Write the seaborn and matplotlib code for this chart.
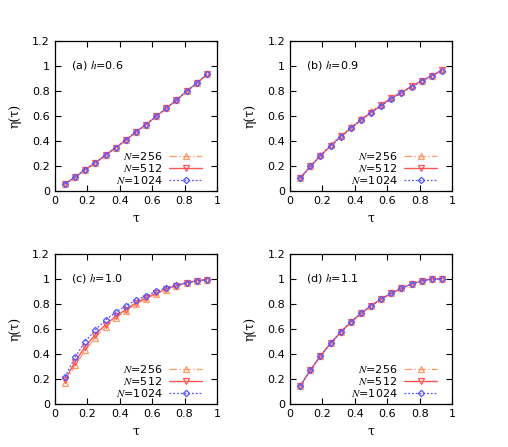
import numpy as np
import matplotlib
matplotlib.use("Agg")
import matplotlib.pyplot as plt
import seaborn as sns

sns.set_style("ticks", rc={"axes.edgecolor": "black", "text.color": "black",
                           "axes.labelcolor": "black", "xtick.color": "black",
                           "ytick.color": "black"})
plt.rcParams['font.family'] = ['DejaVu Sans']
plt.rcParams['mathtext.fontset'] = 'stix'

# data: tau = k/16
tau = [0.0625, 0.125, 0.1875, 0.25, 0.3125, 0.375, 0.4375, 0.5,
       0.5625, 0.625, 0.6875, 0.75, 0.8125, 0.875, 0.9375]

sizes = [256, 512, 1024]
panel_labels = ["(a)", "(b)", "(c)", "(d)"]
h_values = ["0.6", "0.9", "1.0", "1.1"]

eta_a_256 = [0.055, 0.11, 0.17, 0.225, 0.285, 0.345, 0.405, 0.47, 0.53, 0.595, 0.66, 0.725, 0.795, 0.86, 0.93]
eta_a_512 = [0.055, 0.11, 0.17, 0.225, 0.285, 0.345, 0.405, 0.47, 0.53, 0.595, 0.66, 0.725, 0.795, 0.86, 0.93]
eta_a_1024 = [0.055, 0.11, 0.17, 0.225, 0.285, 0.345, 0.405, 0.47, 0.53, 0.595, 0.66, 0.725, 0.795, 0.86, 0.93]

eta_b_256 = [0.105, 0.20, 0.285, 0.37, 0.44, 0.51, 0.575, 0.635, 0.69, 0.745, 0.79, 0.835, 0.88, 0.92, 0.965]
eta_b_512 = [0.10, 0.195, 0.28, 0.36, 0.435, 0.50, 0.565, 0.625, 0.685, 0.74, 0.785, 0.835, 0.88, 0.92, 0.965]
eta_b_1024 = [0.10, 0.195, 0.28, 0.36, 0.43, 0.50, 0.565, 0.625, 0.68, 0.735, 0.785, 0.83, 0.875, 0.92, 0.96]

eta_c_256 = [0.17, 0.31, 0.43, 0.53, 0.615, 0.685, 0.745, 0.80, 0.84, 0.88, 0.915, 0.945, 0.965, 0.985, 0.995]
eta_c_512 = [0.19, 0.34, 0.46, 0.555, 0.635, 0.70, 0.755, 0.81, 0.85, 0.885, 0.92, 0.945, 0.97, 0.985, 0.995]
eta_c_1024 = [0.215, 0.375, 0.50, 0.595, 0.67, 0.735, 0.785, 0.83, 0.865, 0.90, 0.93, 0.95, 0.97, 0.985, 0.995]

eta_d_256 = [0.145, 0.27, 0.385, 0.485, 0.575, 0.655, 0.725, 0.785, 0.84, 0.885, 0.925, 0.96, 0.985, 1.0, 1.0]
eta_d_512 = [0.145, 0.27, 0.385, 0.485, 0.575, 0.655, 0.725, 0.785, 0.84, 0.885, 0.925, 0.96, 0.985, 1.0, 1.0]
eta_d_1024 = [0.145, 0.27, 0.385, 0.485, 0.575, 0.655, 0.725, 0.785, 0.84, 0.885, 0.925, 0.96, 0.985, 1.0, 1.0]

panels = [
    [eta_a_256, eta_a_512, eta_a_1024],
    [eta_b_256, eta_b_512, eta_b_1024],
    [eta_c_256, eta_c_512, eta_c_1024],
    [eta_d_256, eta_d_512, eta_d_1024],
]

styles = [
    dict(color="#ff9966", linestyle=(0, (6, 2, 1, 2)), marker="^", lw=0.9),
    dict(color="#ff5555", linestyle="-", marker="v", lw=1.0),
    dict(color="#5555ff", linestyle=(0, (1.5, 1.5)), marker="D", lw=0.9),
]

fig = plt.figure(figsize=(5.08, 4.47), dpi=100)
positions = [
    [0.108, 0.573, 0.319, 0.336],
    [0.571, 0.573, 0.319, 0.336],
    [0.108, 0.096, 0.319, 0.336],
    [0.571, 0.096, 0.319, 0.336],
]

for i, pos in enumerate(positions):
    ax = fig.add_axes(pos)
    for n, vals, st in zip(sizes, panels[i], styles):
        ms = 4 if st["marker"] != "D" else 3.2
        sns.lineplot(x=tau, y=vals, ax=ax, color=st["color"], linestyle=st["linestyle"],
                     lw=st["lw"], marker=st["marker"], markersize=ms,
                     markerfacecolor="none", markeredgecolor=st["color"],
                     markeredgewidth=0.9, label=r"$N$=" + str(n))
    ax.set_xlim(0, 1)
    ax.set_ylim(0, 1.2)
    ax.set_xticks([0, 0.2, 0.4, 0.6, 0.8, 1.0])
    ax.set_xticklabels(["0", "0.2", "0.4", "0.6", "0.8", "1"])
    ax.set_yticks([0, 0.2, 0.4, 0.6, 0.8, 1.0, 1.2])
    ax.set_yticklabels(["0", "0.2", "0.4", "0.6", "0.8", "1", "1.2"])
    ax.tick_params(direction="in", top=True, right=True, labelsize=8, length=4, width=0.8)
    for sp in ax.spines.values():
        sp.set_linewidth(0.9)
    ax.set_xlabel("τ", fontsize=9, family="DejaVu Serif")
    ax.set_ylabel("η(τ)", fontsize=9, family="DejaVu Serif", labelpad=8)
    ax.text(0.1, 1.0, panel_labels[i] + r" $h$=" + h_values[i], fontsize=8, va="center")
    leg = ax.legend(loc="lower right", frameon=False, fontsize=8, markerfirst=False,
                    handlelength=3.0, handletextpad=0.6, labelspacing=0.0,
                    borderaxespad=0.05, bbox_to_anchor=(0.94, 0.0))

fig.savefig("out.png", dpi=100)
